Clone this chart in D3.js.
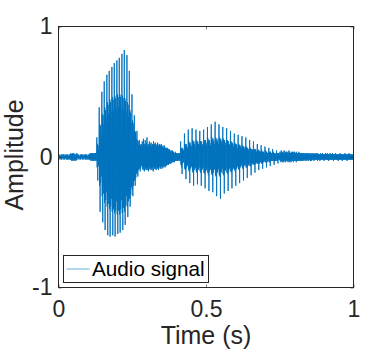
<!DOCTYPE html>
<html>
<head>
<meta charset="utf-8">
<script src="https://cdn.jsdelivr.net/npm/d3@7"></script>
<style>
  html, body { margin: 0; padding: 0; background: #fff; }
  svg { display: block; font-family: 'Liberation Sans', Arial, Helvetica, sans-serif; }
</style>
</head>
<body>
<svg width="390" height="351"></svg>
<script>
// audio-signal.js
const svg = d3.select('svg');
const width = +svg.attr('width');
const height = +svg.attr('height');

// samples per second of the recording
const sampleRate = 1000;

// silence before the first syllable (0 - 0.13 s)
const leadIn = [
  0.01,-0.01,0.02,-0.01,0.01,-0.02,0.01,0.00,-0.01,0.02,-0.02,0.01,-0.01,0.02,-0.01,0.01,-0.02,0.02,-0.01,0.00,
  0.01,-0.02,0.02,-0.01,0.01,-0.01,0.02,-0.02,0.01,-0.01,0.02,-0.02,0.01,-0.01,0.01,-0.02,0.02,-0.01,0.01,-0.02,
  0.02,-0.02,0.03,-0.02,0.02,-0.03,0.02,-0.02,0.03,-0.03,0.02,-0.02,0.03,-0.03,0.02,-0.02,0.01,-0.02,0.02,-0.03,
  0.02,-0.02,0.03,-0.02,0.02,
  0.01,-0.01,0.02,-0.01,0.01,-0.02,0.01,0.00,-0.01,0.02,-0.02,0.01,-0.01,0.02,-0.01,0.01,-0.02,0.02,-0.01,0.01,
  0.01,-0.02,0.02,-0.01,0.01,-0.01,0.02,-0.02,0.01,-0.01,0.02,-0.02,0.01,-0.01,0.01,-0.02,0.02,-0.01,0.01,-0.02,
  0.02,-0.02,0.03,-0.02,0.02,-0.03,0.03,-0.02,0.03,-0.03,0.03,-0.02,0.03,-0.03,0.02,-0.03,0.03,-0.02,0.03,-0.03,
  0.03,-0.02,0.03,-0.03,0.02
];

// first syllable (0.13 - 0.28 s)
const syllableOne = [
  0.15,-0.08,0.10,-0.18,0.09,-0.07,0.06,-0.05,
  0.38,-0.22,0.25,-0.42,0.24,-0.20,0.18,-0.15,0.12,
  0.50,-0.30,0.33,-0.50,0.32,-0.28,0.25,-0.22,
  0.58,-0.35,0.38,-0.56,0.36,-0.33,0.30,-0.27,0.24,
  0.63,-0.38,0.42,-0.60,0.40,-0.36,0.33,-0.30,
  0.66,-0.40,0.44,-0.61,0.42,-0.38,0.35,-0.32,0.28,
  0.69,-0.42,0.46,-0.60,0.44,-0.40,0.36,-0.33,
  0.72,-0.43,0.47,-0.61,0.45,-0.41,0.37,-0.34,0.30,
  0.74,-0.44,0.48,-0.59,0.46,-0.41,0.38,-0.34,
  0.76,-0.44,0.48,-0.58,0.46,-0.40,0.37,-0.33,0.30,
  0.79,-0.43,0.47,-0.56,0.45,-0.39,0.36,-0.32,
  0.82,-0.42,0.45,-0.52,0.43,-0.37,0.34,-0.30,0.27,
  0.78,-0.38,0.42,-0.46,0.40,-0.34,0.31,-0.28,
  0.66,-0.32,0.36,-0.38,0.34,-0.29,0.26,-0.23,0.21,
  0.48,-0.25,0.28,-0.30,0.26,-0.22,0.20,-0.18,
  0.32,-0.18,0.20,-0.22,0.19,-0.16,0.14,-0.13,0.12,
  0.20,-0.12,0.13,-0.15,0.12,-0.10,0.09,-0.08,
  0.13,-0.09,0.10,-0.11,0.09,-0.08,0.07,-0.06
];

// unvoiced part between the syllables (0.28 - 0.41 s)
const gap = [
  0.10,-0.07,0.12,-0.09,0.08,-0.10,0.14,-0.08,0.09,-0.11,0.10,-0.07,
  0.13,-0.09,0.08,-0.10,0.11,-0.08,0.15,-0.10,0.09,-0.08,0.10,-0.11,
  0.08,-0.09,0.12,-0.07,0.10,-0.10,0.09,-0.08,0.11,-0.09,0.08,-0.10,
  0.10,-0.08,0.09,-0.11,0.12,-0.07,0.08,-0.09,0.10,-0.08,0.11,-0.09,
  0.09,-0.10,0.08,-0.07,0.10,-0.09,0.11,-0.08,0.09,-0.10,0.08,-0.08,
  0.10,-0.07,0.09,-0.09,0.08,-0.08,0.10,-0.07,0.09,-0.09,0.08,-0.07,
  0.08,-0.08,0.07,-0.07,0.09,-0.06,0.08,-0.08,0.07,-0.07,0.06,-0.07,
  0.07,-0.06,0.06,-0.06,0.07,-0.05,0.06,-0.06,0.05,-0.05,0.06,-0.05,
  0.05,-0.05,0.04,-0.05,0.05,-0.04,0.04,-0.04,0.05,-0.04,0.04,-0.03,
  0.04,-0.04,0.03,-0.04,0.03,-0.03,0.04,-0.03,0.03,-0.03,0.03,-0.02,
  0.03,-0.03,0.02,-0.03,0.03,-0.02,0.02,-0.03,0.03,-0.02,0.02,-0.03
];

// second syllable (0.41 - 0.75 s)
const syllableTwo = [
  0.12,-0.06,0.07,-0.08,0.06,-0.13,0.07,-0.05,0.06,-0.04,0.05,-0.04,0.03,
  0.18,-0.09,0.10,-0.10,0.09,-0.17,0.10,-0.08,0.08,-0.07,0.07,-0.06,0.05,
  0.21,-0.10,0.12,-0.11,0.10,-0.20,0.11,-0.09,0.09,-0.08,0.08,-0.07,0.06,
  0.22,-0.11,0.13,-0.12,0.11,-0.22,0.12,-0.10,0.10,-0.09,0.08,-0.08,0.07,
  0.21,-0.11,0.13,-0.12,0.11,-0.21,0.12,-0.10,0.10,-0.09,0.09,-0.08,0.07,
  0.20,-0.11,0.12,-0.12,0.11,-0.22,0.12,-0.10,0.10,-0.09,0.08,-0.08,0.07,
  0.21,-0.12,0.13,-0.13,0.12,-0.24,0.13,-0.11,0.11,-0.10,0.09,-0.08,0.07,
  0.23,-0.12,0.14,-0.14,0.12,-0.26,0.13,-0.11,0.11,-0.10,0.09,-0.09,0.08,
  0.25,-0.13,0.15,-0.14,0.13,-0.27,0.14,-0.12,0.12,-0.10,0.10,-0.09,0.08,
  0.27,-0.14,0.15,-0.15,0.13,-0.30,0.14,-0.12,0.12,-0.11,0.10,-0.09,0.08,
  0.25,-0.14,0.15,-0.15,0.13,-0.32,0.14,-0.12,0.12,-0.11,0.10,-0.09,0.08,
  0.23,-0.13,0.14,-0.14,0.12,-0.28,0.13,-0.11,0.11,-0.10,0.09,-0.09,0.08,
  0.22,-0.12,0.13,-0.13,0.12,-0.26,0.12,-0.11,0.10,-0.09,0.09,-0.08,0.07,
  0.20,-0.11,0.12,-0.12,0.11,-0.24,0.11,-0.10,0.10,-0.09,0.08,-0.08,0.07,
  0.18,-0.10,0.11,-0.11,0.10,-0.22,0.10,-0.09,0.09,-0.08,0.07,-0.07,0.06,
  0.17,-0.09,0.10,-0.10,0.09,-0.20,0.09,-0.08,0.08,-0.07,0.07,-0.06,0.06,
  0.16,-0.08,0.09,-0.09,0.08,-0.18,0.08,-0.07,0.07,-0.06,0.06,-0.06,0.05,
  0.15,-0.08,0.08,-0.08,0.07,-0.16,0.07,-0.07,0.06,-0.06,0.05,-0.05,0.05,
  0.13,-0.07,0.07,-0.07,0.06,-0.14,0.06,-0.06,0.06,-0.05,0.05,-0.05,0.04,
  0.12,-0.06,0.06,-0.06,0.06,-0.12,0.06,-0.05,0.05,-0.05,0.04,-0.04,0.04,
  0.10,-0.05,0.06,-0.05,0.05,-0.10,0.05,-0.05,0.04,-0.04,0.04,-0.04,0.03,
  0.09,-0.05,0.05,-0.05,0.04,-0.09,0.04,-0.04,0.04,-0.04,0.03,-0.03,0.03,
  0.08,-0.04,0.05,-0.04,0.04,-0.08,0.04,-0.04,0.03,-0.03,0.03,-0.03,0.03,
  0.07,-0.04,0.04,-0.04,0.04,-0.07,0.04,-0.03,0.03,-0.03,0.03,-0.03,0.02,
  0.06,-0.03,0.04,-0.03,0.03,-0.06,0.03,-0.03,0.03,-0.03,0.02,-0.02,0.02,
  0.05,-0.03,0.03,-0.03,0.03,-0.05,0.03,-0.02,0.03,-0.02,0.02,-0.02
];

// background noise until the end (0.75 - 1 s)
const tail = [
  0.04,-0.03,0.03,-0.04,0.05,-0.03,0.04,-0.03,0.03,-0.04,0.04,-0.02,
  0.03,-0.04,0.05,-0.03,0.03,-0.03,0.04,-0.04,0.03,-0.02,0.04,-0.03,
  0.04,-0.03,0.03,-0.04,0.03,-0.03,0.05,-0.03,0.04,-0.04,0.03,-0.03,
  0.03,-0.04,0.04,-0.03,0.03,-0.02,0.04,-0.03,0.03,-0.04,0.04,-0.03,
  0.03,-0.03,0.04,-0.02,0.03,-0.03,0.03,-0.04,0.04,-0.03,0.02,-0.03,
  0.03,-0.02,0.03,-0.03,0.04,-0.03,0.03,-0.02,0.03,-0.03,0.03,-0.03,
  0.02,-0.03,0.03,-0.02,0.03,-0.03,0.02,-0.02,0.03,-0.03,0.02,-0.02,
  0.03,-0.02,0.02,-0.03,0.03,-0.02,0.03,-0.03,0.02,-0.02,0.03,-0.02,
  0.02,-0.03,0.03,-0.02,0.02,-0.02,0.03,-0.03,0.02,-0.02,0.02,-0.03,
  0.03,-0.02,0.02,-0.02,0.03,-0.02,0.02,-0.03,0.02,-0.02,0.03,-0.02,
  0.02,-0.02,0.03,-0.02,0.02,-0.02,0.02,-0.03,0.03,-0.02,0.02,-0.02,
  0.02,-0.02,0.02,-0.03,0.02,-0.02,0.03,-0.02,0.02,-0.02,0.02,-0.02,
  0.03,-0.02,0.02,-0.02,0.02,-0.03,0.02,-0.02,0.02,-0.02,0.03,-0.02,
  0.02,-0.02,0.02,-0.02,0.03,-0.02,0.02,-0.02,0.02,-0.03,0.02,-0.02,
  0.02,-0.02,0.03,-0.02,0.02,-0.02,0.02,-0.02,0.02,-0.02,0.03,-0.02,
  0.02,-0.03,0.02,-0.02,0.02,-0.02,0.02,-0.02,0.03,-0.02,0.02,-0.02,
  0.02,-0.02,0.02,-0.02,0.02,-0.03,0.02,-0.02,0.02,-0.02,0.02,-0.02,
  0.03,-0.02,0.02,-0.02,0.02,-0.02,0.02,-0.03,0.02,-0.02,0.02,-0.02,
  0.02,-0.02,0.02,-0.02,0.03,-0.02,0.02,-0.02,0.02,-0.02,0.02,-0.03,
  0.02,-0.02,0.02,-0.02,0.02,-0.02,0.03,-0.02,0.02,-0.02,0.02,-0.02,
  0.02,-0.02,0.02,-0.02,0.02,-0.02,0.02,-0.02,0.01
];

const signal = [...leadIn, ...syllableOne, ...gap, ...syllableTwo, ...tail];

const xTicks = [0, 0.5, 1];
const yTicks = [-1, 0, 1];
const xLabel = 'Time (s)';
const yLabel = 'Amplitude';
const seriesName = 'Audio signal';

const axisColor = '#262626';
const lineColor = '#0072bd';

// plot box (pixel edges of the axes frame)
const box = { left: 58.5, right: 353.5, top: 26.5, bottom: 287.5 };

svg.append('rect')
  .attr('width', width)
  .attr('height', height)
  .attr('fill', '#fff');

// Scales
const xScale = d3.scaleLinear()
  .domain([0, 1])
  .range([box.left, box.right]);

const yScale = d3.scaleLinear()
  .domain([-1, 1])
  .range([box.bottom, box.top]);

// Waveform
const line = d3.line()
  .x((d, i) => xScale(i / sampleRate))
  .y(d => yScale(d));

svg.append('path')
  .datum(signal)
  .attr('fill', 'none')
  .attr('stroke', lineColor)
  .attr('stroke-width', 0.9)
  .attr('d', line);

// Axes, ticks pointing inward like MATLAB
const fmt = d => String(d);

const styleAxis = (g) => {
  g.select('.domain').remove();
  g.selectAll('.tick line').attr('stroke', axisColor).attr('stroke-width', 0.6);
  g.selectAll('.tick text')
    .attr('fill', axisColor)
    .attr('font-size', 23)
    .attr('font-family', null);
};

svg.append('g')
  .attr('transform', `translate(0,${box.bottom})`)
  .call(d3.axisBottom(xScale).tickValues(xTicks).tickFormat(fmt)
    .tickSizeInner(-3).tickSizeOuter(0).tickPadding(13))
  .call(styleAxis);

svg.append('g')
  .attr('transform', `translate(0,${box.top})`)
  .call(d3.axisTop(xScale).tickValues(xTicks).tickFormat('')
    .tickSizeInner(-3).tickSizeOuter(0))
  .call(styleAxis);

svg.append('g')
  .attr('transform', `translate(${box.left},0)`)
  .call(d3.axisLeft(yScale).tickValues(yTicks).tickFormat(fmt)
    .tickSizeInner(-3).tickSizeOuter(0).tickPadding(6))
  .call(styleAxis);

svg.append('g')
  .attr('transform', `translate(${box.right},0)`)
  .call(d3.axisRight(yScale).tickValues(yTicks).tickFormat('')
    .tickSizeInner(-3).tickSizeOuter(0))
  .call(styleAxis);

// Frame
svg.append('rect')
  .attr('x', box.left)
  .attr('y', box.top)
  .attr('width', box.right - box.left)
  .attr('height', box.bottom - box.top)
  .attr('fill', 'none')
  .attr('stroke', axisColor)
  .attr('stroke-width', 1);

// Labels
svg.append('text')
  .attr('x', (box.left + box.right) / 2)
  .attr('y', 344)
  .attr('text-anchor', 'middle')
  .attr('font-size', 25)
  .attr('fill', axisColor)
  .text(xLabel);

svg.append('text')
  .attr('transform', `translate(23,${(box.top + box.bottom) / 2 - 2}) rotate(-90)`)
  .attr('text-anchor', 'middle')
  .attr('font-size', 25)
  .attr('fill', axisColor)
  .text(yLabel);

// Legend
const legend = svg.append('g').attr('transform', 'translate(63.5,255.5)');

legend.append('rect')
  .attr('width', 145)
  .attr('height', 27)
  .attr('fill', '#fff')
  .attr('stroke', axisColor)
  .attr('stroke-width', 1);

legend.append('line')
  .attr('x1', 3)
  .attr('x2', 26)
  .attr('y1', 13.5)
  .attr('y2', 13.5)
  .attr('stroke', lineColor)
  .attr('stroke-width', 0.6);

legend.append('text')
  .attr('x', 28.5)
  .attr('y', 20.5)
  .attr('font-size', 20.7)
  .attr('fill', '#000')
  .text(seriesName);
</script>
</body>
</html>
